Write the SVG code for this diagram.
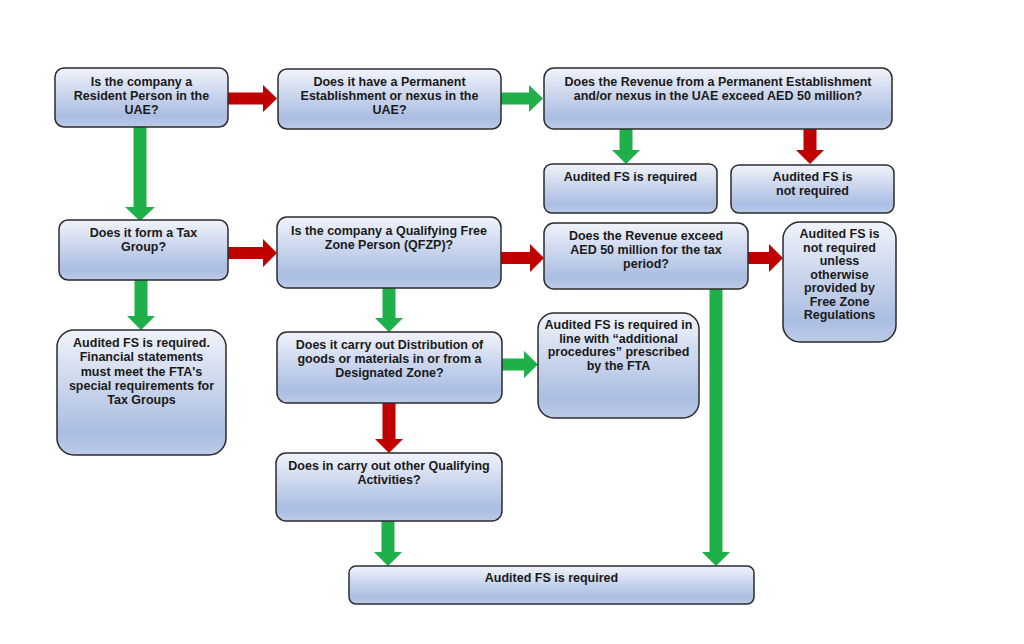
<svg xmlns="http://www.w3.org/2000/svg" width="1024" height="644" viewBox="0 0 1024 644">
<defs>
<linearGradient id="g" x1="0" y1="0" x2="0" y2="1">
<stop offset="0" stop-color="#f0f3fa"/>
<stop offset="0.82" stop-color="#aabde2"/>
<stop offset="1" stop-color="#bccbe8"/>
</linearGradient>
<style>
.b{fill:url(#g);stroke:#2b2b2b;stroke-width:1.5}
.t{font-family:"Liberation Sans",Arial,sans-serif;font-weight:bold;font-size:12.5px;fill:#1a1a1a;text-anchor:middle}
.gr{fill:#1fb04a}
.rd{fill:#c00000}
</style>
</defs>
<rect width="1024" height="644" fill="#ffffff"/>
<g id="connectors">
<path class="rd" d="M228 92.5 H263 V85 L277 98.5 L263 112 V104.5 H228 Z"/>
<path class="gr" d="M501 92.5 H529 V85 L543 98.5 L529 112 V104.5 H501 Z"/>
<path class="gr" d="M619.5 129 H632.5 V150 H640 L626 164 L612 150 H619.5 Z"/>
<path class="rd" d="M803.5 129 H816.5 V150 H824 L810 164 L796 150 H803.5 Z"/>
<path class="gr" d="M133.5 127 H146.5 V207 H155 L140 221 L125 207 H133.5 Z"/>
<path class="gr" d="M134.5 280 H147.5 V316 H155 L141 330 L127 316 H134.5 Z"/>
<path class="rd" d="M228 247 H263 V239 L277 253 L263 267 V259 H228 Z"/>
<path class="rd" d="M501 252 H530 V244 L544 258 L530 272 V264 H501 Z"/>
<path class="rd" d="M748 252 H769 V244 L783 258 L769 272 V264 H748 Z"/>
<path class="gr" d="M382.5 288 H395.5 V318 H403 L389 332 L375 318 H382.5 Z"/>
<path class="gr" d="M502 358.5 H524 V351 L538 364.5 L524 378 V370.5 H502 Z"/>
<path class="gr" d="M709.5 289 H722.5 V552 H730 L716 566 L702 552 H709.5 Z"/>
<path class="rd" d="M382.5 403 H395.5 V439 H403 L389 453 L375 439 H382.5 Z"/>
<path class="gr" d="M381.5 521 H394.5 V552 H402 L388 566 L374 552 H381.5 Z"/>
</g>
<g id="n1"><rect class="b" x="55" y="68" width="173" height="59" rx="9"/>
<text class="t" x="141.5" y="86">Is the company a</text><text class="t" x="141.5" y="100">Resident Person in the</text><text class="t" x="141.5" y="114">UAE?</text></g>
<g id="n2"><rect class="b" x="278" y="69" width="223" height="60" rx="9"/>
<text class="t" x="389.5" y="86">Does it have a Permanent</text><text class="t" x="389.5" y="100">Establishment or nexus in the</text><text class="t" x="389.5" y="114">UAE?</text></g>
<g id="n3"><rect class="b" x="544" y="68" width="348" height="61" rx="10"/>
<text class="t" x="718" y="86">Does the Revenue from a Permanent Establishment</text><text class="t" x="718" y="100">and/or nexus in the UAE exceed AED 50 million?</text></g>
<g id="n4"><rect class="b" x="544" y="164" width="173" height="49" rx="8"/>
<text class="t" x="630.5" y="181">Audited FS is required</text></g>
<g id="n5"><rect class="b" x="731" y="165" width="163" height="48" rx="8"/>
<text class="t" x="812.5" y="181">Audited FS is</text><text class="t" x="812.5" y="195">not required</text></g>
<g id="n6"><rect class="b" x="59" y="220" width="169" height="60" rx="9"/>
<text class="t" x="143.5" y="237">Does it form a Tax</text><text class="t" x="143.5" y="251">Group?</text></g>
<g id="n7"><rect class="b" x="57" y="330" width="169" height="125" rx="17"/>
<text class="t" x="141.5" y="347">Audited FS is required.</text><text class="t" x="141.5" y="361.25">Financial statements</text><text class="t" x="141.5" y="375.5">must meet the FTA's</text><text class="t" x="141.5" y="389.75">special requirements for</text><text class="t" x="141.5" y="404">Tax Groups</text></g>
<g id="n8"><rect class="b" x="277" y="217" width="224" height="71" rx="10"/>
<text class="t" x="389" y="235">Is the company a Qualifying Free</text><text class="t" x="389" y="249">Zone Person (QFZP)?</text></g>
<g id="n9"><rect class="b" x="544" y="223" width="204" height="66" rx="10"/>
<text class="t" x="646" y="240">Does the Revenue exceed</text><text class="t" x="646" y="254">AED 50 million for the tax</text><text class="t" x="646" y="268">period?</text></g>
<g id="n10"><rect class="b" x="783" y="222" width="113" height="120" rx="17"/>
<text class="t" x="839.5" y="238">Audited FS is</text><text class="t" x="839.5" y="251.5">not required</text><text class="t" x="839.5" y="265">unless</text><text class="t" x="839.5" y="278.5">otherwise</text><text class="t" x="839.5" y="292">provided by</text><text class="t" x="839.5" y="305.5">Free Zone</text><text class="t" x="839.5" y="319">Regulations</text></g>
<g id="n11"><rect class="b" x="277" y="332" width="225" height="71" rx="10"/>
<text class="t" x="389.5" y="349">Does it carry out Distribution of</text><text class="t" x="389.5" y="363">goods or materials in or from a</text><text class="t" x="389.5" y="377">Designated Zone?</text></g>
<g id="n12"><rect class="b" x="538" y="313" width="161" height="105" rx="16"/>
<text class="t" x="618.5" y="329">Audited FS is required in</text><text class="t" x="618.5" y="342.5">line with “additional</text><text class="t" x="618.5" y="356">procedures” prescribed</text><text class="t" x="618.5" y="369.5">by the FTA</text></g>
<g id="n13"><rect class="b" x="276" y="453" width="226" height="68" rx="10"/>
<text class="t" x="389" y="470">Does in carry out other Qualifying</text><text class="t" x="389" y="484">Activities?</text></g>
<g id="n14"><rect class="b" x="349" y="566" width="405" height="38" rx="7"/>
<text class="t" x="551.5" y="582">Audited FS is required</text></g>
</svg>
